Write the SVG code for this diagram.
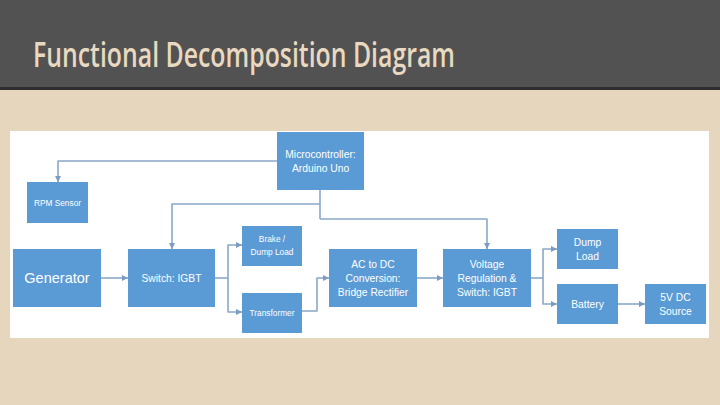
<svg xmlns="http://www.w3.org/2000/svg" width="720" height="405" viewBox="0 0 720 405">
<defs>
<marker id="ah" viewBox="0 0 10 10" refX="10" refY="5" markerWidth="6" markerHeight="6" markerUnits="userSpaceOnUse" orient="auto">
<path d="M0,0 L10,5 L0,10 Z" fill="#7a9cc2"/>
</marker>
<style>
.node rect{fill:#5b9bd5;}
.node text{fill:#ffffff;font-family:"Liberation Sans",Arial,sans-serif;text-anchor:middle;dominant-baseline:central;}
.s{font-size:8.3px;}
.m{font-size:10.3px;}
.l{font-size:14.5px;}
#connectors path{fill:none;stroke:#8aa8c8;stroke-width:1.6;stroke-linejoin:round;}
#connectors path.a{marker-end:url(#ah);}
</style>
</defs>
<rect x="0" y="0" width="720" height="405" fill="#e6d6bd"/>
<rect x="0" y="0" width="720" height="87" fill="#525252"/>
<rect x="0" y="87" width="720" height="3" fill="#2e2e2e"/>
<text x="33" y="67" font-family="'Open Sans','DejaVu Sans Condensed',sans-serif" font-weight="600" font-size="35" fill="#e8d9c0" textLength="422" lengthAdjust="spacingAndGlyphs">Functional Decomposition Diagram</text>
<rect x="10" y="131" width="699" height="207" fill="#ffffff"/>

<g id="connectors">
<path class="a" d="M277,161 H58 V182"/>
<path d="M320,190 V219"/>
<path class="a" d="M320,204 H172 V249"/>
<path class="a" d="M320,219 H487 V249"/>
<path class="a" d="M101,278 H128"/>
<path d="M215,278 H228"/>
<path class="a" d="M228,278 V245 H242"/>
<path class="a" d="M228,278 V312 H242"/>
<path class="a" d="M302,311 H317 V278 H329"/>
<path class="a" d="M417,278 H443"/>
<path d="M531,278 H543"/>
<path class="a" d="M543,278 V249 H557"/>
<path class="a" d="M543,278 V304 H557"/>
<path class="a" d="M618,304 H645"/>
</g>

<g id="microcontroller" class="node"><rect x="277" y="132" width="87" height="58"/><text class="m" x="320.5" y="154">Microcontroller:</text><text class="m" x="320.5" y="168">Arduino Uno</text></g>
<g id="rpm-sensor" class="node"><rect x="27" y="182" width="61" height="41"/><text class="s" x="57.5" y="202.5">RPM Sensor</text></g>
<g id="generator" class="node"><rect x="13" y="249" width="88" height="58"/><text class="l" x="57" y="278">Generator</text></g>
<g id="switch-igbt" class="node"><rect x="128" y="249" width="87" height="58"/><text class="m" x="171.5" y="278">Switch: IGBT</text></g>
<g id="brake-dump-load" class="node"><rect x="242" y="226" width="60" height="40"/><text class="s" x="272" y="239">Brake /</text><text class="s" x="272" y="252">Dump Load</text></g>
<g id="transformer" class="node"><rect x="242" y="293" width="60" height="40"/><text class="s" x="272" y="313">Transformer</text></g>
<g id="ac-dc" class="node"><rect x="329" y="249" width="88" height="58"/><text class="m" x="373" y="264">AC to DC</text><text class="m" x="373" y="278">Conversion:</text><text class="m" x="373" y="292">Bridge Rectifier</text></g>
<g id="voltage-regulation" class="node"><rect x="443" y="249" width="88" height="58"/><text class="m" x="487" y="264">Voltage</text><text class="m" x="487" y="278">Regulation &amp;</text><text class="m" x="487" y="292">Switch: IGBT</text></g>
<g id="dump-load" class="node"><rect x="557" y="229" width="61" height="40"/><text class="m" x="587.5" y="242">Dump</text><text class="m" x="587.5" y="256">Load</text></g>
<g id="battery" class="node"><rect x="557" y="284" width="61" height="40"/><text class="m" x="587.5" y="304">Battery</text></g>
<g id="dc-source" class="node"><rect x="645" y="284" width="61" height="40"/><text class="m" x="675.5" y="297.5">5V DC</text><text class="m" x="675.5" y="311">Source</text></g>
</svg>
